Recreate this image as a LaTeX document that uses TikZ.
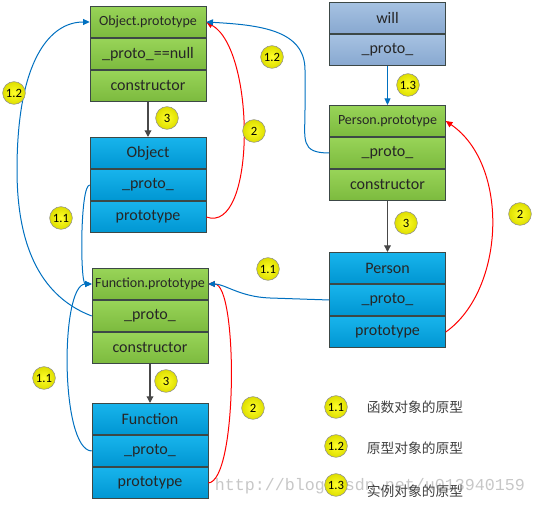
\documentclass[tikz,border=0pt]{standalone}
\usepackage{fontspec}
\setmainfont{Carlito}
\newfontfamily\cjkFont{Noto Sans CJK SC}
\newfontfamily\urlFont{Liberation Mono}
\usetikzlibrary{positioning}
\usetikzlibrary{arrows.meta}
\definecolor{protoGreen}{RGB}{152,212,88}
\definecolor{protoGreenDark}{RGB}{124,186,62}
\definecolor{ctorBlue}{RGB}{24,180,236}
\definecolor{ctorBlueDark}{RGB}{0,150,210}
\definecolor{willBlue}{RGB}{166,194,226}
\definecolor{willBlueDark}{RGB}{136,168,208}
\definecolor{boxBorder}{RGB}{60,72,70}
\definecolor{linkBlue}{RGB}{0,112,192}
\definecolor{linkRed}{RGB}{255,0,0}
\definecolor{linkGray}{RGB}{72,72,72}
\definecolor{badgeYellow}{RGB}{255,255,40}
\definecolor{badgeRim}{RGB}{222,222,0}
\tikzstyle{diagram} = [x = .75pt, y = -.75pt]
\tikzstyle{rowStyle} = [draw=boxBorder, minimum width = 87pt, minimum height = 23.6pt, inner sep = 0pt, text=black!85, font=\fontsize{12}{14}\selectfont]
\tikzstyle{greenRow} = [rowStyle, top color=protoGreen, bottom color=protoGreenDark]
\tikzstyle{blueRow} = [rowStyle, top color=ctorBlue, bottom color=ctorBlueDark]
\tikzstyle{willRow} = [rowStyle, top color=willBlue, bottom color=willBlueDark]
\tikzstyle{badge} = [circle, draw=black!45, inner color=badgeYellow, outer color=badgeRim, minimum size = 17pt, inner sep = 0pt, font=\fontsize{9.5}{11}\selectfont]
\tikzstyle{legendText} = [right = 11pt of #1, text=black!75, font=\cjkFont\fontsize{10.3}{12}\selectfont]
\tikzstyle{watermark} = [text=black!22, font=\urlFont\fontsize{12.5}{14}\selectfont]
\tikzstyle{protoLink} = [color=linkBlue, line width=.75pt, -{Triangle[length=5pt, width=4.5pt]}]
\tikzstyle{prototypeLink} = [color=linkRed, line width=.75pt, -{Triangle[length=5pt, width=4.5pt]}]
\tikzstyle{ctorLink} = [color=linkGray, line width=1pt, -{Triangle[length=5pt, width=5pt]}]
\newcommand{\smallTitle}{\fontsize{10.5}{12}\selectfont}
\newcommand{\classBox}[7]{
  \node [#2] (#1-1) at (#3, #4) {#5};
  \node [#2, below = 0pt of #1-1] (#1-2) {#6};
  \node [#2, below = 0pt of #1-2] (#1-3) {#7};
}
\newcommand{\instanceBox}[6]{
  \node [#2] (#1-1) at (#3, #4) {#5};
  \node [#2, below = 0pt of #1-1] (#1-2) {#6};
}
\newcommand{\badgeAt}[4]{\node [badge] (#1) at (#2, #3) {#4};}
\begin{document}
\begin{tikzpicture}[diagram]
  \useasboundingbox (0,0) rectangle (537,505);
  \node [watermark] (url) at (370,486) {http://blog.csdn.net/u013940159};

  \classBox{op}{greenRow}{148}{22}{\smallTitle Object.prototype}{\_proto\_==null}{constructor}
  \classBox{ob}{blueRow}{148}{153}{Object}{\_proto\_}{prototype}
  \classBox{fp}{greenRow}{150}{284}{\smallTitle Function.prototype}{\_proto\_}{constructor}
  \classBox{fn}{blueRow}{150}{419}{Function}{\_proto\_}{prototype}
  \instanceBox{wl}{willRow}{387.5}{18}{will}{\_proto\_}
  \classBox{pp}{greenRow}{387.5}{121}{\smallTitle Person.prototype}{\_proto\_}{constructor}
  \classBox{pe}{blueRow}{387.5}{268}{Person}{\_proto\_}{prototype}

  \draw [ctorLink] (op-3.south) -- (ob-1.north);
  \draw [ctorLink] (fp-3.south) -- (fn-1.north);
  \draw [ctorLink] (pp-3.south) -- (pe-1.north);

  \draw [prototypeLink] (ob-3.east) .. controls (256,235) and (256,50) .. (op-1.east);
  \draw [prototypeLink] (fn-3.east) .. controls (238,481) and (238,284) .. (fp-1.east);
  \draw [prototypeLink] (pe-3.east) .. controls (505,290) and (510,165) .. (pp-1.east);

  \draw [protoLink] (ob-2.west) .. controls (80,185) and (80,284) .. (fp-1.west);
  \draw [protoLink] (fn-2.west) .. controls (60,450) and (60,284) .. (fp-1.west);
  \draw [protoLink] (fp-2.west) .. controls (50,300) and (17,260) .. (17,170) .. controls (17,60) and (50,22) .. (op-1.west);
  \draw [protoLink] (wl-2.south) -- (pp-1.north);
  \draw [protoLink] (pp-2.west) .. controls (300,153) and (305,140) .. (305,110) -- (305,70) .. controls (305,30) and (260,25) .. (op-1.east);
  \draw [protoLink] (pe-2.west) -- (270,298) .. controls (240,297) and (225,284) .. (fp-1.east);

  \badgeAt{b3a}{167}{118}{3}
  \badgeAt{b2a}{254}{131}{2}
  \badgeAt{b12a}{14}{93}{1.2}
  \badgeAt{b11a}{61}{218}{1.1}
  \badgeAt{b12b}{272}{57}{1.2}
  \badgeAt{b13}{408}{85}{1.3}
  \badgeAt{b3b}{406}{223}{3}
  \badgeAt{b2b}{520}{214}{2}
  \badgeAt{b11b}{268}{269}{1.1}
  \badgeAt{b11c}{44}{378}{1.1}
  \badgeAt{b3c}{166}{381}{3}
  \badgeAt{b2c}{253}{408}{2}

  \badgeAt{lg11}{336}{407}{1.1}
  \badgeAt{lg12}{336}{446}{1.2}
  \badgeAt{lg13}{336}{485}{1.3}
  \node [legendText=lg11] (lt11) {函数对象的原型};
  \node [legendText=lg12, yshift=-2pt] (lt12) {原型对象的原型};
  \node [legendText=lg13, yshift=-5pt] (lt13) {实例对象的原型};
\end{tikzpicture}
\end{document}
